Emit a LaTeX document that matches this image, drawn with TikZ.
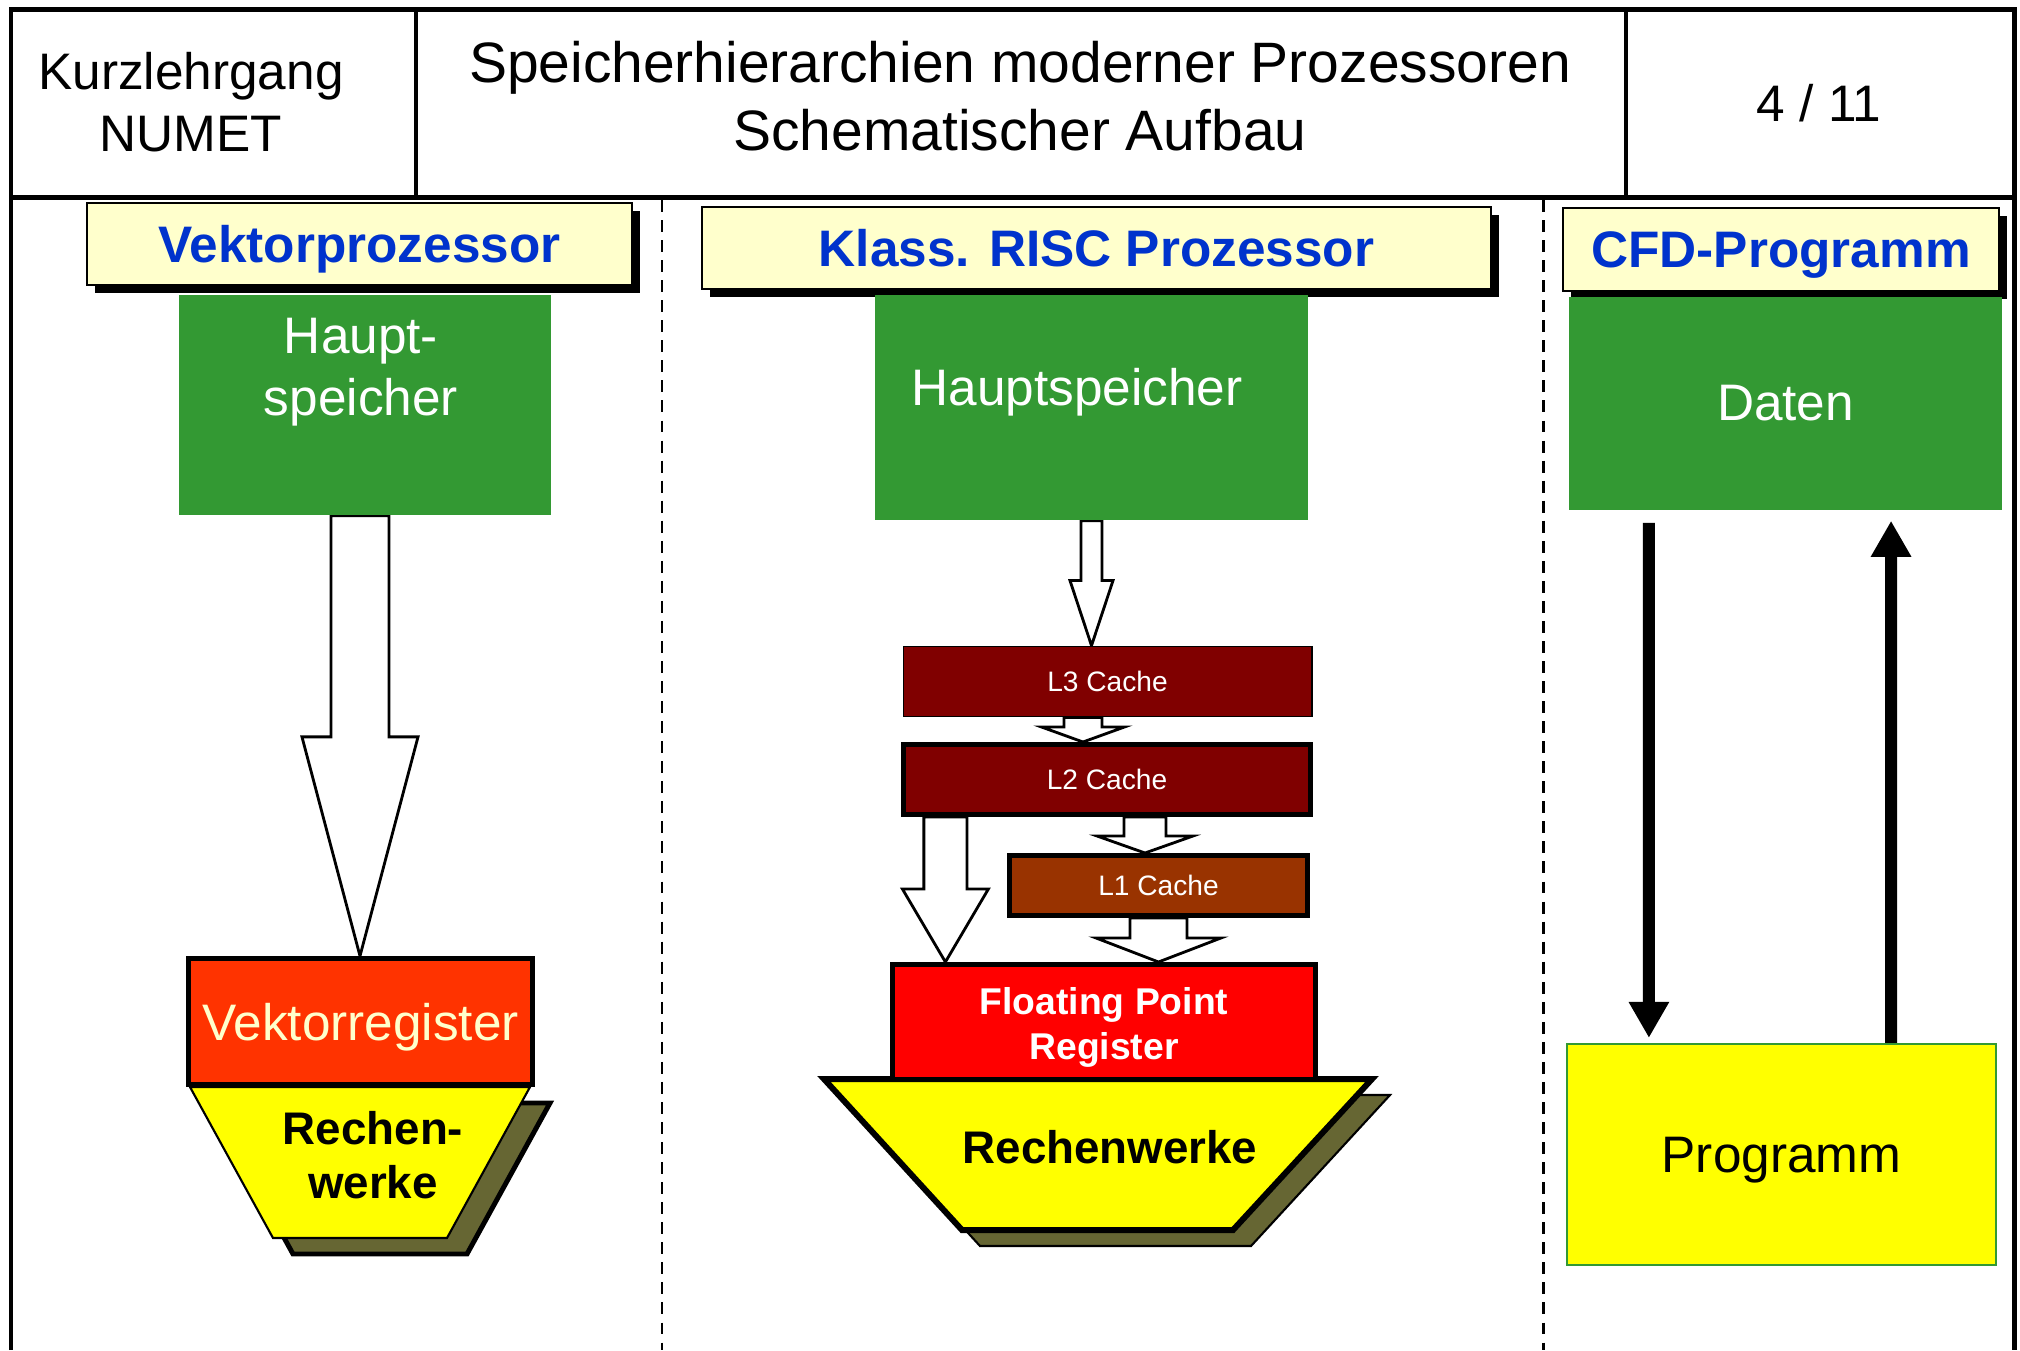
\documentclass[tikz,border=0pt]{standalone}
\usepackage{fontspec}
\setmainfont{Liberation Sans}
\usepackage{tikz}
\usetikzlibrary{positioning,calc,shadows,arrows.meta,backgrounds}

\definecolor{titelgelb}{HTML}{FFFFCC}
\definecolor{titelblau}{HTML}{0033CC}
\definecolor{speichergruen}{HTML}{339933}
\definecolor{vregrot}{HTML}{FF3300}
\definecolor{cachedunkel}{HTML}{800000}
\definecolor{cachebraun}{HTML}{993300}
\definecolor{fprot}{HTML}{FF0000}
\definecolor{rwgelb}{HTML}{FFFF00}
\definecolor{rwschatten}{HTML}{666633}

\newcommand{\sizebig}{\fontsize{16.2}{19.3}\selectfont}
\newcommand{\sizemain}{\fontsize{14.6}{17.6}\selectfont}
\newcommand{\sizerw}{\fontsize{13}{15.5}\selectfont}
\newcommand{\sizefp}{\fontsize{10.6}{12.8}\selectfont}
\newcommand{\sizecache}{\fontsize{8}{9.6}\selectfont}

% hollow block arrow: start, target (only y used), half shaft, half head, head length
\newcommand{\blockarrow}[5]{%
  \draw[hohlpfeil] let \p1=#1, \p2=#2 in
    (\x1-#3,\y1) -- (\x1+#3,\y1) -- (\x1+#3,\y2+#5) -- (\x1+#4,\y2+#5)
    -- (\x1,\y2) -- (\x1-#4,\y2+#5) -- (\x1-#3,\y2+#5) -- cycle;}

\begin{document}
\begin{tikzpicture}[x=0.01cm, y=-0.01cm,
  rahmen/.style={line width=1.42pt},
  zelle/.style={line width=1.14pt},
  trenner/.style={line width=0.85pt, dash pattern=on 3.4pt off 2.3pt},
  kopftxt/.style={align=center, font=\sizemain},
  titelbox/.style={draw=black, line width=0.6pt, fill=titelgelb, text=titelblau,
    font=\sizemain\bfseries, text depth=0pt,
    drop shadow={shadow xshift=0.08cm, shadow yshift=-0.08cm, fill=black, opacity=1}},
  speicher/.style={fill=speichergruen, text=white, font=\sizemain, align=center},
  weisstxt/.style={text=white, font=\sizemain, align=center},
  cache/.style={draw=black, text=white, font=\sizecache},
  dickbox/.style={draw=black, line width=1.42pt},
  hohlpfeil/.style={draw=black, fill=white, line width=0.8pt, line join=miter},
  fettpfeil/.style={line width=3.4pt, -{Triangle[length=0.36cm, width=0.38cm]}}]
\useasboundingbox (0,0) rectangle (2020,1350);

  % Kopfzeile
  \draw[rahmen] (11,1350) -- (11,9) -- (2014,9) -- (2014,1350);
  \draw[rahmen] (11,197) -- (2014,197);
  \draw[zelle] (416,9) -- (416,197);
  \draw[zelle] (1626,9) -- (1626,197);
  \node[kopftxt] (kurs) at (191,102) {Kurzlehrgang\\NUMET};
  \node[kopftxt, font=\sizebig] (thema) at (1020,96) {Speicherhierarchien moderner Prozessoren\\Schematischer Aufbau};
  \node[kopftxt] (seite) at (1819,103) {4 / 11};
  \draw[trenner] (662,200) -- (662,1350);
  \draw[trenner] (1543,200) -- (1543,1350);

  % Vektorprozessor
  \node[titelbox, minimum width=5.45cm, minimum height=0.82cm] (vtitel) at (359.5,244) {Vektorprozessor};
  \node[speicher, minimum width=3.72cm, minimum height=2.2cm] (hs1) at (365,405) {};
  \node[weisstxt] (hs1txt) at (361,372) {Haupt-\\speicher};
  \draw[fill=rwschatten, line width=1.4pt] (210,1103) -- (550,1103) -- (467,1254) -- (293,1254) -- cycle;
  \draw[fill=rwgelb, line width=0.6pt] (190,1087) -- (530,1087) -- (447,1238) -- (273,1238) -- cycle;
  \node[font=\sizerw\bfseries, align=center] (rw1) at (373,1155) {Rechen-\\werke};
  \node[dickbox, fill=vregrot, text=titelgelb, font=\sizemain, text depth=0pt,
    minimum width=3.44cm, minimum height=1.26cm] (vreg) at (360.5,1021.5) {Vektorregister};

  % RISC Prozessor
  \node[titelbox, minimum width=7.89cm, minimum height=0.82cm] (rtitel) at (1096.5,248) {Klass. RISC Prozessor};
  \node[speicher, minimum width=4.33cm, minimum height=2.25cm] (hs2) at (1091.5,407.5) {};
  \node[weisstxt, text depth=0pt] (hs2txt) at (1077,387) {Hauptspeicher};
  \node[cache, fill=cachedunkel, line width=0.5pt, minimum width=4.08cm, minimum height=0.7cm] (l3) at (1107.5,681.5) {L3 Cache};
  \node[cache, dickbox, fill=cachedunkel, minimum width=4.07cm, minimum height=0.7cm] (l2) at (1107,779.5) {L2 Cache};
  \node[cache, dickbox, fill=cachebraun, minimum width=2.98cm, minimum height=0.6cm] (l1) at (1158.5,885.5) {L1 Cache};
  \draw[fill=rwschatten, line width=0.6pt] (842,1095) -- (1390,1095) -- (1251,1246) -- (980,1246) -- cycle;
  \draw[fill=rwgelb, line width=1.7pt] (824,1079) -- (1372,1079) -- (1233,1230) -- (962,1230) -- cycle;
  \node[font=\sizerw\bfseries] (rw2) at (1110,1147) {Rechenwerke};
  \node[dickbox, fill=fprot, text=white, font=\sizefp\bfseries, align=center,
    minimum width=4.23cm, minimum height=1.15cm] (fp) at (1104,1022) {\rule{0pt}{1em}Floating Point\\Register};

  % CFD-Programm
  \node[titelbox, minimum width=4.36cm, minimum height=0.83cm] (ctitel) at (1781,249.5) {CFD-Programm};
  \node[speicher, minimum width=4.33cm, minimum height=2.13cm] (daten) at (1785.5,403.5) {Daten};
  \node[draw=speichergruen, fill=rwgelb, line width=0.6pt, font=\sizemain, text depth=0pt,
    minimum width=4.29cm, minimum height=2.21cm] (prog) at (1781.5,1154.5) {Programm};
  \draw[fettpfeil, shorten <=0.12cm, shorten >=0.05cm] ([xshift=-1.365cm]daten.south) -- ([xshift=-1.325cm]prog.north);
  \draw[fettpfeil, shorten >=0.1cm] ([xshift=1.095cm]prog.north) -- ([xshift=1.055cm]daten.south);

  \begin{scope}[on background layer]
    \blockarrow{([xshift=-0.05cm]hs1.south)}{(vreg.north)}{0.29cm}{0.58cm}{2.19cm}
    \blockarrow{(hs2.south)}{(l3.north)}{0.105cm}{0.215cm}{0.65cm}
    \blockarrow{([xshift=-0.245cm]l3.south)}{(l2.north)}{0.19cm}{0.415cm}{0.15cm}
    \blockarrow{([xshift=-1.615cm]l2.south)}{(fp.north)}{0.215cm}{0.43cm}{0.73cm}
    \blockarrow{([xshift=0.38cm]l2.south)}{(l1.north)}{0.21cm}{0.48cm}{0.17cm}
    \blockarrow{(l1.south)}{(fp.north)}{0.285cm}{0.625cm}{0.24cm}
  \end{scope}
\end{tikzpicture}
\end{document}
